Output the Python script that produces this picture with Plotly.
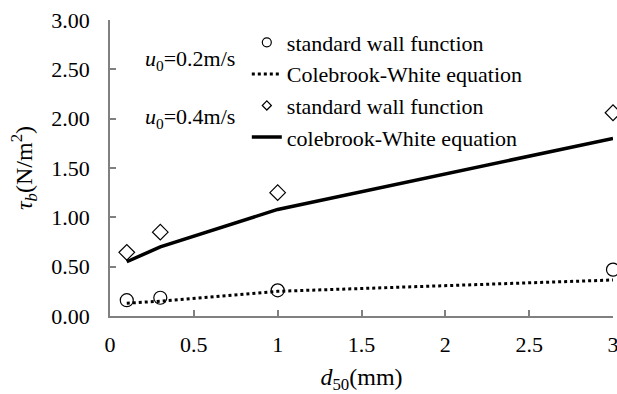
import plotly.graph_objects as go

d50 = [0.1, 0.3, 1.0, 3.0]
swf_02 = [0.16, 0.185, 0.26, 0.47]
cw_02 = [0.13, 0.15, 0.25, 0.365]
swf_04 = [0.645, 0.85, 1.25, 2.06]
cw_04 = [0.55, 0.70, 1.08, 1.80]

names = ["standard wall function", "Colebrook-White equation",
         "standard wall function", "colebrook-White equation"]
x_ticks = [0, 0.5, 1, 1.5, 2, 2.5, 3]
x_labels = ["0", "0.5", "1", "1.5", "2", "2.5", "3"]
y_ticks = [0, 0.5, 1, 1.5, 2, 2.5, 3]
y_labels = ["0.00", "0.50", "1.00", "1.50", "2.00", "2.50", "3.00"]

FAM = "Liberation Serif"
F22 = dict(family=FAM, size=22, color="black")
F24 = dict(family=FAM, size=24, color="black")

fig = go.Figure()
# data traces
fig.add_trace(go.Scatter(x=d50, y=swf_02, mode="markers", name=names[0], showlegend=False,
                         marker=dict(symbol="circle-open", size=13, color="black", line=dict(width=1.2)),
                         cliponaxis=False))
fig.add_trace(go.Scatter(x=d50, y=cw_02, mode="lines", name=names[1], showlegend=False,
                         line=dict(color="black", width=3, dash="dot"), cliponaxis=False))
fig.add_trace(go.Scatter(x=d50, y=swf_04, mode="markers", name=names[2], showlegend=False,
                         marker=dict(symbol="diamond-open", size=12, color="black", line=dict(width=1.2)),
                         cliponaxis=False))
fig.add_trace(go.Scatter(x=d50, y=cw_04, mode="lines", name=names[3], showlegend=False,
                         line=dict(color="black", width=3.5), cliponaxis=False))
# legend entries (smaller symbols as in the reference)
fig.add_trace(go.Scatter(x=[None], y=[None], mode="markers", name=names[0],
                         marker=dict(symbol="circle-open", size=9, color="black", line=dict(width=1.2))))
fig.add_trace(go.Scatter(x=[None], y=[None], mode="lines", name=names[1],
                         line=dict(color="black", width=3, dash="dot")))
fig.add_trace(go.Scatter(x=[None], y=[None], mode="markers", name=names[2],
                         marker=dict(symbol="diamond-open", size=7, color="black", line=dict(width=1.2))))
fig.add_trace(go.Scatter(x=[None], y=[None], mode="lines", name=names[3],
                         line=dict(color="black", width=3.5)))

fig.update_layout(
    width=617, height=394,
    margin=dict(l=110, r=4, t=20, b=78),
    paper_bgcolor="white", plot_bgcolor="white",
    font=F22,
    showlegend=True,
    legend=dict(x=0.272, y=0.995, xanchor="left", yanchor="top",
                bgcolor="rgba(0,0,0,0)", font=F22, itemwidth=30,
                tracegroupgap=0),
    xaxis=dict(range=[0, 3], tickvals=x_ticks, ticktext=x_labels, tickfont=F22,
               showgrid=False, zeroline=False, showline=True, linecolor="#808080", linewidth=1.5,
               ticks="inside", ticklen=6, tickcolor="#808080", tickwidth=1.5,
               ticklabelstandoff=8, ticklabeloverflow="allow", automargin=False,
               title=dict(text="<i>d</i><sub>50</sub>(mm)", standoff=13, font=F24)),
    yaxis=dict(range=[0, 3], tickvals=y_ticks, ticktext=y_labels, tickfont=F22,
               showgrid=False, zeroline=False, showline=True, linecolor="#808080", linewidth=1.5,
               ticks="inside", ticklen=6, tickcolor="#808080", tickwidth=1.5,
               ticklabelstandoff=14, automargin=False,
               title=dict(text="<i>τ<sub>b</sub></i>(N/m<sup>2</sup>)", standoff=12, font=F24)),
    annotations=[
        dict(text="<i>u</i><sub>0</sub>=0.2m/s", xref="paper", yref="paper", x=0.065, y=(316-60)/296,
             xanchor="left", yanchor="middle", showarrow=False, font=F22),
        dict(text="<i>u</i><sub>0</sub>=0.4m/s", xref="paper", yref="paper", x=0.065, y=(316-118)/296,
             xanchor="left", yanchor="middle", showarrow=False, font=F22),
    ],
)

fig.write_html("out.html")
